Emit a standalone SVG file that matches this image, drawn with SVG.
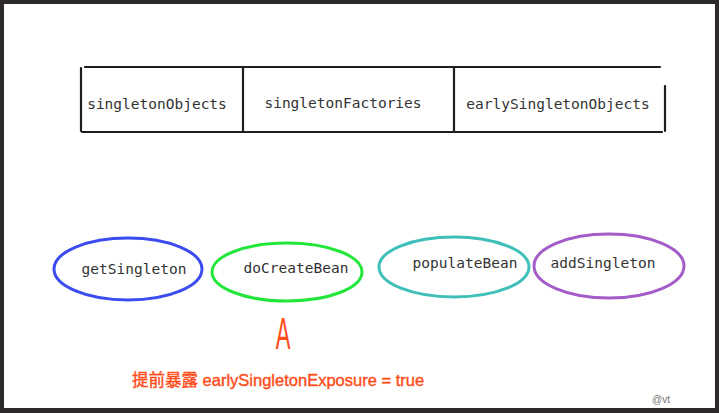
<svg xmlns="http://www.w3.org/2000/svg" width="719" height="413" viewBox="0 0 719 413">
<style>
.ln{stroke:#1e1e1e;stroke-width:2.2;fill:none;stroke-linecap:round}
.cell{font-family:"DejaVu Sans Mono","Liberation Mono",monospace;font-size:14.5px;fill:#333;text-anchor:middle}
.lbl{font-family:"DejaVu Sans Mono","Liberation Mono",monospace;font-size:14.5px;fill:#333;text-anchor:middle}
.el{fill:none;stroke-width:3}
.red{fill:#ff4d1a;font-family:"Liberation Sans","Noto Sans CJK SC",sans-serif}
</style>
<rect x="0" y="0" width="719" height="413" fill="#2e2a2a"/>
<rect x="4" y="4" width="711" height="404" fill="#ffffff"/>
<g id="table">
<line class="ln" x1="85" y1="67" x2="660" y2="67"/>
<line class="ln" x1="82" y1="132" x2="662" y2="132"/>
<line class="ln" x1="81" y1="68" x2="81" y2="131"/>
<line class="ln" x1="243" y1="67" x2="243" y2="132"/>
<line class="ln" x1="454" y1="67" x2="454" y2="132"/>
<line class="ln" x1="665" y1="86" x2="665" y2="131"/>
<text class="cell" x="157" y="109">singletonObjects</text>
<text class="cell" x="343" y="108">singletonFactories</text>
<text class="cell" x="558" y="109">earlySingletonObjects</text>
</g>
<g id="getSingleton">
<ellipse class="el" cx="128" cy="269" rx="74" ry="31" stroke="#3b4cf0"/>
<text class="lbl" x="134" y="274">getSingleton</text>
</g>
<g id="doCreateBean">
<ellipse class="el" cx="287" cy="272" rx="75" ry="29" stroke="#22e63a"/>
<text class="lbl" x="296" y="273">doCreateBean</text>
</g>
<g id="populateBean">
<ellipse class="el" cx="454" cy="267" rx="75" ry="30" stroke="#3fbfb9"/>
<text class="lbl" x="465" y="268">populateBean</text>
</g>
<g id="addSingleton">
<ellipse class="el" cx="609" cy="266" rx="75" ry="32" stroke="#a35cc8"/>
<text class="lbl" x="603" y="268">addSingleton</text>
</g>
<g id="connectors"></g>
<g id="note">
<text class="red" x="283" y="349" font-size="44" text-anchor="middle" transform="translate(283 349) scale(0.5 1) translate(-283 -349)">A</text>
<text class="red" x="132" y="386" font-size="16.5" stroke="#ff4d1a" stroke-width="0.4">提前暴露 earlySingletonExposure = true</text>
</g>
<text x="661" y="403" font-family="Liberation Sans,sans-serif" font-size="10" fill="#777" text-anchor="middle">@vt</text>
</svg>
